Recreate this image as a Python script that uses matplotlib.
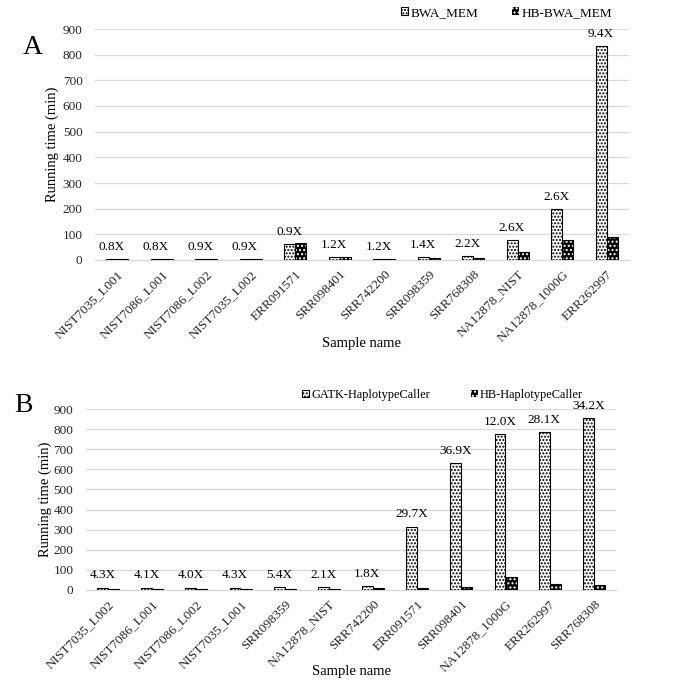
import numpy as np
import matplotlib
matplotlib.use('Agg')
import matplotlib.pyplot as plt
from matplotlib.transforms import blended_transform_factory

plt.rcParams['font.family'] = ['Liberation Serif', 'DejaVu Serif']
plt.rcParams['hatch.linewidth'] = 1.0

# Panel A: alignment
samples_a = ['NIST7035_L001', 'NIST7086_L001', 'NIST7086_L002', 'NIST7035_L002',
             'ERR091571', 'SRR098401', 'SRR742200', 'SRR098359', 'SRR768308',
             'NA12878_NIST', 'NA12878_1000G', 'ERR262997']
bwa_mem = [3, 3, 3, 3, 62, 12, 3, 10, 16, 78, 198, 834]
hb_bwa_mem = [4, 4, 3, 3, 67, 10, 3, 7, 7, 30, 76, 89]
speedup_a = ['0.8X', '0.8X', '0.9X', '0.9X', '0.9X', '1.2X', '1.2X', '1.4X',
             '2.2X', '2.6X', '2.6X', '9.4X']

# Panel B: variant calling
samples_b = ['NIST7035_L002', 'NIST7086_L001', 'NIST7086_L002', 'NIST7035_L001',
             'SRR098359', 'NA12878_NIST', 'SRR742200', 'ERR091571', 'SRR098401',
             'NA12878_1000G', 'ERR262997', 'SRR768308']
gatk_hc = [12, 12, 12, 12, 16, 15, 20, 315, 631, 775, 785, 854]
hb_hc = [3, 3, 3, 3, 3, 7, 11, 10, 17, 65, 28, 25]
speedup_b = ['4.3X', '4.1X', '4.0X', '4.3X', '5.4X', '2.1X', '1.8X', '29.7X',
             '36.9X', '12.0X', '28.1X', '34.2X']

W, H = 684, 694
fig = plt.figure(figsize=(W / 100, H / 100), dpi=100)


def axes_px(left, right, top, bottom):
    return fig.add_axes([left / W, 1 - bottom / H, (right - left) / W, (bottom - top) / H])


def draw_panel(ax, names, s1, s2, labels, leg_names, leg_xy, colspace, leg_fs,
               letter, letter_xy, ylab_x, xlab_y):
    x = np.arange(len(names))
    w = 0.245
    b1 = ax.bar(x - 0.128, s1, w, color='white', edgecolor='black', hatch='.....',
                linewidth=0.8, zorder=3)
    b2 = ax.bar(x + 0.128, s2, w, color='black', edgecolor='white', hatch='....',
                linewidth=0, zorder=3)
    ax.bar(x + 0.128, s2, w, fill=False, edgecolor='black', linewidth=0.8, zorder=4)

    for xi, v, t in zip(x, s1, labels):
        ax.annotate(t, (xi - 0.128, v), xytext=(0, 8.8), textcoords='offset points',
                    ha='center', va='center', fontsize=9.5)

    ax.set_xlim(-0.5, len(names) - 0.5)
    ax.set_ylim(0, 900)
    ax.set_yticks(np.arange(0, 901, 100))
    ax.yaxis.grid(True, color='#d9d9d9', linewidth=0.9, zorder=0)
    ax.set_axisbelow(True)
    for s in ['top', 'right', 'left']:
        ax.spines[s].set_visible(False)
    ax.spines['bottom'].set_color('#d9d9d9')
    ax.spines['bottom'].set_linewidth(0.9)
    ax.tick_params(length=0, labelsize=9.5, colors='#262626')
    ax.tick_params(axis='y', pad=9)
    ax.set_xticks(x)
    ax.set_xticklabels(names, rotation=45, ha='right', rotation_mode='anchor')
    ax.tick_params(axis='x', pad=6)
    ax.set_xlabel('Sample name', fontsize=10.5, va='center')
    ax.set_ylabel('Running time (min)', fontsize=10.5, va='center')
    ax.yaxis.set_label_coords(ylab_x / W, 0.5,
                              transform=blended_transform_factory(fig.transFigure, ax.transAxes))
    ax.xaxis.set_label_coords(0.5, 1 - xlab_y / H,
                              transform=blended_transform_factory(ax.transAxes, fig.transFigure))

    fig.legend([b1, b2], leg_names, loc='center left',
               bbox_to_anchor=(leg_xy[0] / W, 1 - leg_xy[1] / H), ncol=2, frameon=False,
               fontsize=leg_fs, handlelength=0.55, handleheight=0.55, handletextpad=0.2,
               columnspacing=colspace, borderpad=0, borderaxespad=0)
    fig.text(letter_xy[0] / W, 1 - letter_xy[1] / H, letter, fontsize=20,
             ha='center', va='center')


ax_a = axes_px(95, 629, 29, 260)
draw_panel(ax_a, samples_a, bwa_mem, hb_bwa_mem, speedup_a,
           ['BWA_MEM', 'HB-BWA_MEM'], (401, 13), 2.5, 9.5, 'A', (33, 47), 52, 344)

ax_b = axes_px(86, 616, 409, 590)
draw_panel(ax_b, samples_b, gatk_hc, hb_hc, speedup_b,
           ['GATK-HaplotypeCaller', 'HB-HaplotypeCaller'], (302, 395), 3.3, 8.9, 'B',
           (23, 405), 45, 671)

fig.savefig('out.png', dpi=100)
